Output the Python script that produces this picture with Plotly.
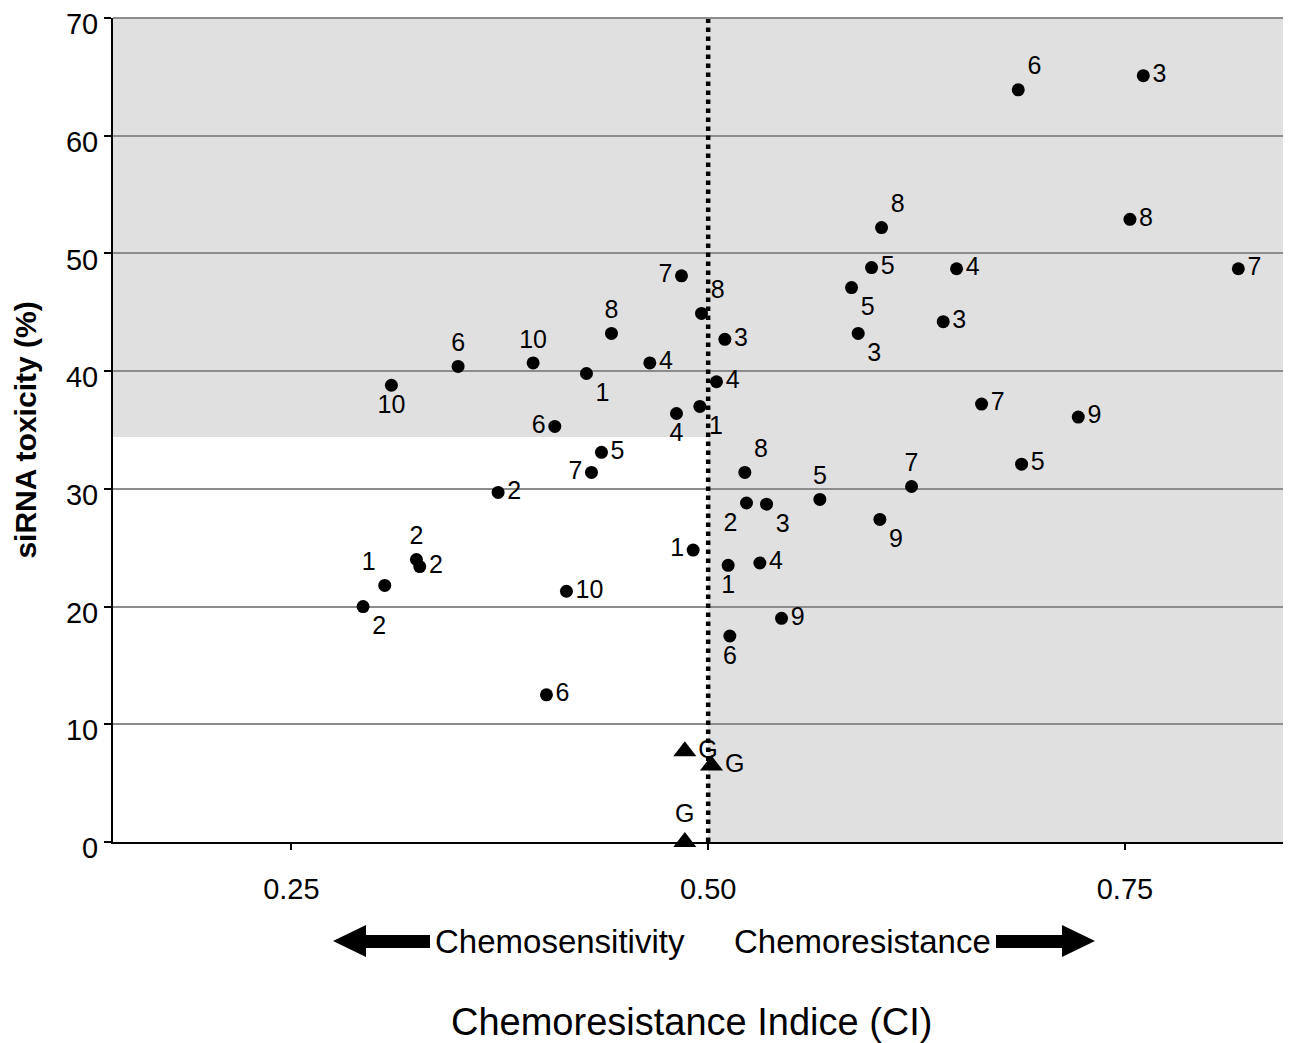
import plotly.graph_objects as go

# ---------------- data ----------------
ci_circle = [0.686, 0.761, 0.604, 0.753, 0.598, 0.649, 0.818, 0.586, 0.590, 0.641,
             0.484, 0.496, 0.510, 0.442, 0.350, 0.395, 0.310, 0.427, 0.465, 0.505,
             0.495, 0.481, 0.408, 0.436, 0.430, 0.374, 0.664, 0.722, 0.688, 0.622,
             0.522, 0.567, 0.523, 0.535, 0.603, 0.491, 0.512, 0.531, 0.325, 0.327,
             0.306, 0.293, 0.415, 0.544, 0.513, 0.403]
tox_circle = [63.9, 65.1, 52.2, 52.9, 48.8, 48.7, 48.7, 47.1, 43.2, 44.2,
              48.1, 44.9, 42.7, 43.2, 40.4, 40.7, 38.8, 39.8, 40.7, 39.1,
              37.0, 36.4, 35.3, 33.1, 31.4, 29.7, 37.2, 36.1, 32.1, 30.2,
              31.4, 29.1, 28.8, 28.7, 27.4, 24.8, 23.5, 23.7, 24.0, 23.4,
              21.8, 20.0, 21.3, 19.0, 17.5, 12.5]
lab_circle = ["6", "3", "8", "8", "5", "4", "7", "5", "3", "3",
              "7", "8", "3", "8", "6", "10", "10", "1", "4", "4",
              "1", "4", "6", "5", "7", "2", "7", "9", "5", "7",
              "8", "5", "2", "3", "9", "1", "1", "4", "2", "2",
              "1", "2", "10", "9", "6", "6"]

ci_gem = [0.486, 0.502, 0.486]
tox_gem = [7.7, 6.5, 0.0]
lab_gem = ["G", "G", "G"]

x_ticks = [0.25, 0.50, 0.75]
x_ticklabels = ["0.25", "0.50", "0.75"]
y_ticks = [0, 10, 20, 30, 40, 50, 60, 70]

ci_threshold = 0.50
tox_threshold = 34.4

# ---------------- styles ----------------
pos_circle = ["top right", "middle right", "top right", "middle right", "middle right",
              "middle right", "middle right", "bottom right", "bottom right", "middle right",
              "middle left", "top right", "middle right", "top center", "top center",
              "top center", "bottom center", "bottom right", "middle right", "middle right",
              "bottom right", "bottom center", "middle left", "middle right", "middle left",
              "middle right", "middle right", "middle right", "middle right", "top center",
              "top right", "top center", "bottom left", "bottom right", "bottom right",
              "middle left", "bottom center", "middle right", "top center", "middle right",
              "top left", "bottom right", "middle right", "middle right", "bottom center",
              "middle right"]
pos_gem = ["middle right", "middle right", "top center"]

FONT = "Arial, Liberation Sans, sans-serif"
GRID = "#8c8c8c"
X_RANGE = [0.143, 0.849]
Y_RANGE = [0, 70]

# page is rendered with an 8px body margin -> shift the figure accordingly
OFF = 8
W, H = 1291 - OFF, 1043 - OFF
ML, MT = 113 - OFF, 18 - OFF
MR = W - (1290 - OFF)
MB = H - (842 - OFF)
PW, PH = W - ML - MR, H - MT - MB


def px2paper(px, py):
    """page pixel -> paper coordinate"""
    fx, fy = px - OFF, py - OFF
    return (fx - ML) / PW, (H - MB - fy) / PH


def poly(points):
    coords = [px2paper(a, b) for a, b in points]
    return "M " + " L ".join(f"{x:.5f},{y:.5f}" for x, y in coords) + " Z"


fig = go.Figure()

fig.add_trace(go.Scatter(
    x=ci_circle, y=tox_circle, mode="markers+text",
    text=lab_circle, textposition=pos_circle,
    marker=dict(symbol="circle", size=13, color="black"),
    textfont=dict(family=FONT, size=25, color="black"),
    cliponaxis=False, showlegend=False, hoverinfo="x+y+text",
))
fig.add_trace(go.Scatter(
    x=ci_gem, y=tox_gem, mode="markers+text",
    text=lab_gem, textposition=pos_gem,
    marker=dict(symbol="triangle-up", size=20, color="black"),
    textfont=dict(family=FONT, size=25, color="black"),
    cliponaxis=False, showlegend=False, hoverinfo="x+y+text",
))

shapes = [
    dict(type="rect", xref="x", yref="y", x0=X_RANGE[0], x1=X_RANGE[1],
         y0=tox_threshold, y1=Y_RANGE[1], fillcolor="#e0e0e0",
         line=dict(width=0), layer="below"),
    dict(type="rect", xref="x", yref="y", x0=ci_threshold, x1=X_RANGE[1],
         y0=Y_RANGE[0], y1=tox_threshold, fillcolor="#e0e0e0",
         line=dict(width=0), layer="below"),
    dict(type="line", xref="paper", yref="paper", x0=0, x1=1,
         y0=1, y1=1, line=dict(color=GRID, width=2), layer="above"),
    dict(type="line", xref="x", yref="y", x0=ci_threshold, x1=ci_threshold,
         y0=Y_RANGE[0], y1=Y_RANGE[1], line=dict(color="black", width=4.5, dash="dot"),
         layer="between"),
    # arrows below the axis
    dict(type="path", xref="paper", yref="paper", fillcolor="black", line=dict(width=0),
         path=poly([(333, 941), (366, 925), (366, 935), (430, 935), (430, 948),
                    (366, 948), (366, 957)])),
    dict(type="path", xref="paper", yref="paper", fillcolor="black", line=dict(width=0),
         path=poly([(996, 935), (1062, 935), (1062, 925), (1095, 941), (1062, 957),
                    (1062, 948), (996, 948)])),
]

annotations = [
    dict(text="Chemosensitivity", xref="paper", yref="paper",
         x=px2paper(560, 941)[0], y=px2paper(560, 941)[1], showarrow=False,
         xanchor="center", yanchor="middle", font=dict(family=FONT, size=33, color="black")),
    dict(text="Chemoresistance", xref="paper", yref="paper",
         x=px2paper(862, 941)[0], y=px2paper(862, 941)[1], showarrow=False,
         xanchor="center", yanchor="middle", font=dict(family=FONT, size=33, color="black")),
    dict(text="Chemoresistance Indice (CI)", xref="paper", yref="paper",
         x=px2paper(692, 1022)[0], y=px2paper(692, 1022)[1], showarrow=False,
         xanchor="center", yanchor="middle", font=dict(family=FONT, size=38, color="black")),
]

fig.update_layout(
    width=W, height=H,
    margin=dict(l=ML, r=MR, t=MT, b=MB, autoexpand=False),
    paper_bgcolor="white", plot_bgcolor="white",
    shapes=shapes, annotations=annotations,
    xaxis=dict(range=X_RANGE, tickvals=x_ticks, ticktext=x_ticklabels,
               showgrid=False, zeroline=False, showline=True, linecolor="black",
               linewidth=2, ticks="outside", ticklen=6, tickwidth=2, tickcolor="black",
               ticklabelstandoff=14, automargin=False, ticklabeloverflow="allow",
               tickfont=dict(family=FONT, size=29, color="black")),
    yaxis=dict(range=Y_RANGE, tickvals=y_ticks, showgrid=True, gridcolor=GRID,
               gridwidth=1.5, zeroline=False, showline=True, linecolor="black",
               linewidth=2, ticks="outside", ticklen=7, tickwidth=2, tickcolor="black",
               automargin=False, ticklabeloverflow="allow", ticklabelshift=6,
               tickfont=dict(family=FONT, size=29, color="black"),
               title=dict(text="<b>siRNA toxicity (%)</b>", standoff=20,
                          font=dict(family=FONT, size=30, color="black"))),
)

fig.write_html("out.html")
